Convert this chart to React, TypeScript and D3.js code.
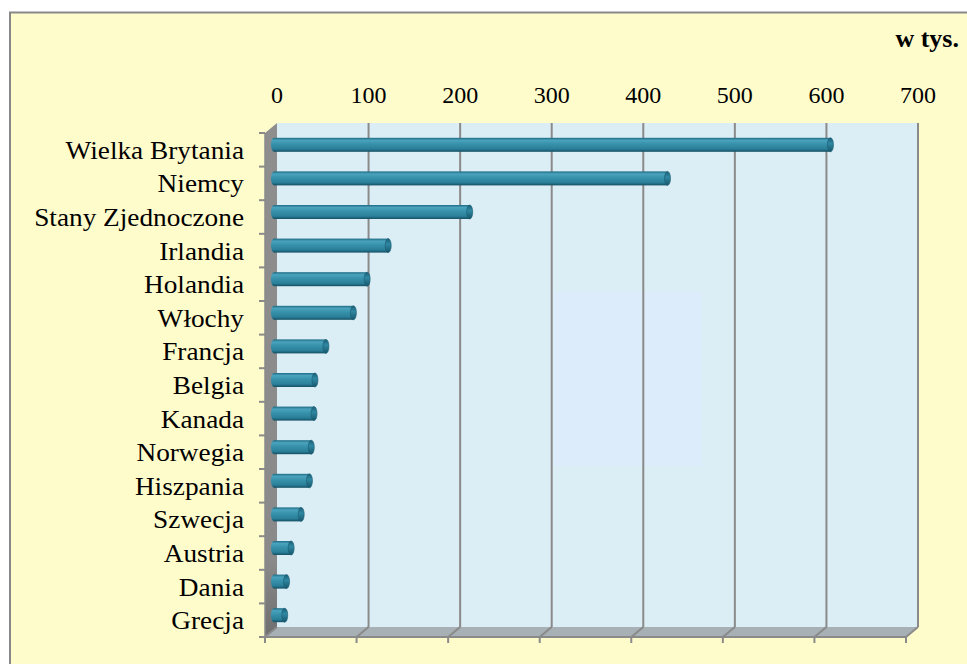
import React from "react";
import * as d3 from "d3";

const categories = [
  "Wielka Brytania", "Niemcy", "Stany Zjednoczone", "Irlandia", "Holandia",
  "Włochy", "Francja", "Belgia", "Kanada", "Norwegia", "Hiszpania",
  "Szwecja", "Austria", "Dania", "Grecja",
];
const values = [611, 433, 217, 128, 105, 90, 60, 48, 47, 44, 42, 33, 22, 17, 15];
const tickValues = [0, 100, 200, 300, 400, 500, 600, 700];
const unitLabel = "w tys.";

export default function App() {
  const W = 967, H = 664;
  const backLeft = 277, backRight = 918, backTop = 123, backBottom = 627;
  const DX = -12, DY = 10;
  const x = d3.scaleLinear().domain([0, 700]).range([backLeft, backRight]);
  const yBack = d3.scaleBand().domain(categories).range([backTop, backBottom]);
  const bw = yBack.bandwidth();
  const barH = 14;
  const font = "'Liberation Serif', 'Times New Roman', serif";

  return (
    <svg width={W} height={H} style={{ position: "absolute", left: 0, top: 0 }}>
      <defs>
        <linearGradient id="barG" x1="0" y1="0" x2="0" y2="1">
          <stop offset="0%" stopColor="#1e6a83" />
          <stop offset="18%" stopColor="#4aa3bd" />
          <stop offset="45%" stopColor="#3791ab" />
          <stop offset="80%" stopColor="#2a7f98" />
          <stop offset="100%" stopColor="#144f64" />
        </linearGradient>
        <linearGradient id="capG" x1="0" y1="0" x2="0" y2="1">
          <stop offset="0%" stopColor="#1b5f76" />
          <stop offset="40%" stopColor="#2f88a2" />
          <stop offset="100%" stopColor="#17566b" />
        </linearGradient>
        <linearGradient id="wallG" x1="0" y1="0" x2="0" y2="1">
          <stop offset="0%" stopColor="#8e8e8e" />
          <stop offset="85%" stopColor="#8a8a8a" />
          <stop offset="100%" stopColor="#6f6f6f" />
        </linearGradient>
      </defs>
      <rect x={0} y={0} width={W} height={H} fill="#ffffff" />
      <rect x={10} y={12.5} width={1000} height={700} fill="#fffccc" stroke="#888888" strokeWidth={2} />

      {/* back wall */}
      <rect x={backLeft} y={backTop} width={backRight - backLeft} height={backBottom - backTop} fill="#dceef5" />
      <rect x={554} y={292} width={148} height={174} fill="#dcecfa" />

      {/* floor */}
      <polygon
        points={`${backLeft},${backBottom} ${backRight},${backBottom} ${backRight + DX},${backBottom + DY} ${backLeft + DX},${backBottom + DY}`}
        fill="#a6b0b5"
      />
      {/* left wall */}
      <polygon
        points={`${backLeft + DX},${backTop + DY} ${backLeft},${backTop} ${backLeft},${backBottom} ${backLeft + DX},${backBottom + DY}`}
        fill="url(#wallG)"
      />

      {/* gridlines */}
      {tickValues.map((t) => (
        <g key={t}>
          {t > 0 && (
            <line x1={x(t)} y1={backTop} x2={x(t)} y2={backBottom} stroke="#8a8a8a" strokeWidth={2} />
          )}
          <line x1={x(t)} y1={backBottom} x2={x(t) + DX} y2={backBottom + DY} stroke="#8a8a8a" strokeWidth={2} />
          <line x1={x(t) + DX} y1={backBottom + DY} x2={x(t) + DX} y2={backBottom + DY + 6} stroke="#8a8a8a" strokeWidth={2} />
          <text x={x(t)} y={103} textAnchor="middle" fontFamily={font} fontSize={24} fill="#000">
            {t}
          </text>
        </g>
      ))}
      <line x1={backLeft + DX} y1={backBottom + DY} x2={backRight + DX} y2={backBottom + DY} stroke="#8a8a8a" strokeWidth={2} />

      {/* category ticks on left wall front edge */}
      {d3.range(categories.length + 1).map((i) => {
        const yy = backTop + DY + i * bw;
        return (
          <line key={i} x1={backLeft + DX - 6} y1={yy} x2={backLeft + DX} y2={yy} stroke="#8a8a8a" strokeWidth={2} />
        );
      })}
      <line x1={backLeft + DX} y1={backTop + DY} x2={backLeft + DX} y2={backBottom + DY} stroke="#8a8a8a" strokeWidth={1.5} />

      {/* bars */}
      {categories.map((c, i) => {
        const cy = (yBack(c) as number) + bw / 2 + DY / 2;
        const x0 = x(0) + DX / 2;
        const x1 = x(values[i]) + DX / 2;
        const rx = 3;
        return (
          <g key={c}>
            <ellipse cx={x0 + rx} cy={cy} rx={rx} ry={barH / 2} fill="url(#barG)" />
            <rect x={x0 + rx} y={cy - barH / 2} width={Math.max(0, x1 - x0 - rx)} height={barH} fill="url(#barG)" />
            <ellipse cx={x1} cy={cy} rx={rx} ry={barH / 2} fill="url(#capG)" stroke="#175a70" strokeWidth={0.6} />
          </g>
        );
      })}

      {/* category labels */}
      {categories.map((c) => (
        <text
          key={c}
          transform={`translate(244,${(yBack(c) as number) + bw / 2 + DY + 9}) scale(1.05,1)`}
          textAnchor="end"
          fontFamily={font}
          fontSize={26}
          fill="#000"
        >
          {c}
        </text>
      ))}

      <text x={959} y={47} textAnchor="end" fontFamily={font} fontSize={26} fontWeight="bold" fill="#000">
        {unitLabel}
      </text>
    </svg>
  );
}
